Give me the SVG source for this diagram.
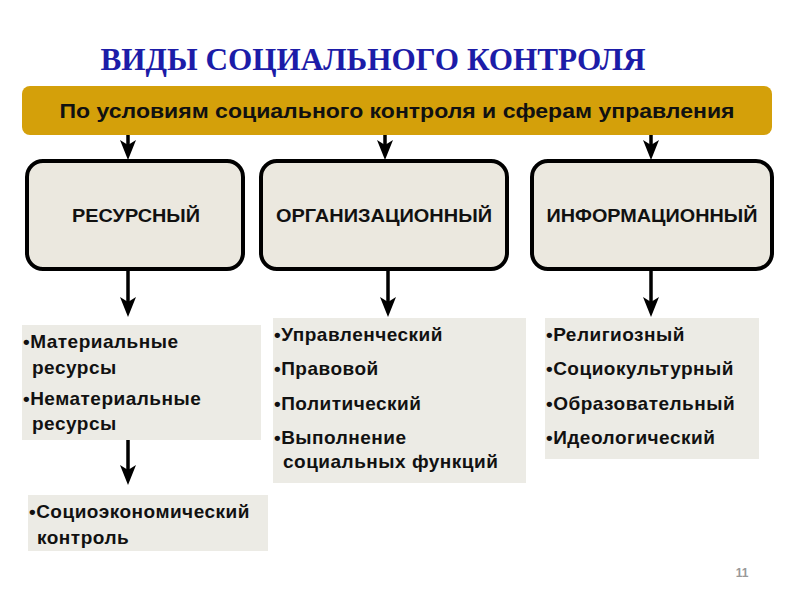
<svg xmlns="http://www.w3.org/2000/svg" width="800" height="600" viewBox="0 0 800 600">
<defs>
<marker id="ah" viewBox="0 0 20 16" refX="12" refY="8" markerWidth="20" markerHeight="16" markerUnits="userSpaceOnUse" orient="auto">
<path d="M0,0 L20,8 L0,16 L5,8 z" fill="#000"/>
</marker>
<style>
.conn{stroke:#000;stroke-width:3.5;fill:none;marker-end:url(#ah)}
.box{fill:#ebe8df;stroke:#000;stroke-width:4}
.lst{fill:#ecebe5}
.bt{font-family:"Liberation Sans",Arial,sans-serif;font-weight:bold;font-size:18px;fill:#111;text-anchor:middle}
.li{font-family:"Liberation Sans",Arial,sans-serif;font-weight:bold;font-size:19px;letter-spacing:0.5px;fill:#111}
</style>
</defs>
<rect width="800" height="600" fill="#fff"/>
<text x="373" y="70" text-anchor="middle" font-family="'Liberation Serif','Times New Roman',serif" font-weight="bold" font-size="31" fill="#1c1ca8" textLength="545" lengthAdjust="spacingAndGlyphs">ВИДЫ СОЦИАЛЬНОГО КОНТРОЛЯ</text>
<g id="header">
<rect x="22" y="86" width="750" height="49" rx="8" fill="#d4a00a"/>
<text x="397" y="118" text-anchor="middle" font-family="'Liberation Sans',Arial,sans-serif" font-weight="bold" font-size="21" fill="#111" textLength="675" lengthAdjust="spacingAndGlyphs">По условиям социального контроля и сферам управления</text>
</g>
<g id="connectors">
<line class="conn" x1="128" y1="135" x2="128" y2="152"/>
<line class="conn" x1="385" y1="135" x2="385" y2="152"/>
<line class="conn" x1="651" y1="135" x2="651" y2="152"/>
<line class="conn" x1="128" y1="269" x2="128" y2="309"/>
<line class="conn" x1="388" y1="269" x2="388" y2="309"/>
<line class="conn" x1="651" y1="269" x2="651" y2="309"/>
<line class="conn" x1="128" y1="440" x2="128" y2="477"/>
</g>
<g id="resource">
<rect class="box" x="27" y="161" width="216" height="108" rx="16"/>
<text class="bt" x="136" y="222" textLength="128" lengthAdjust="spacingAndGlyphs">РЕСУРСНЫЙ</text>
</g>
<g id="organizational">
<rect class="box" x="261" y="161" width="246" height="108" rx="16"/>
<text class="bt" x="384" y="222" textLength="216" lengthAdjust="spacingAndGlyphs">ОРГАНИЗАЦИОННЫЙ</text>
</g>
<g id="informational">
<rect class="box" x="532" y="161" width="240" height="108" rx="16"/>
<text class="bt" x="652" y="222" textLength="211" lengthAdjust="spacingAndGlyphs">ИНФОРМАЦИОННЫЙ</text>
</g>
<g id="list-resource">
<rect class="lst" x="22" y="325" width="239" height="115"/>
<text class="li" x="23" y="348">•Материальные</text>
<text class="li" x="32" y="374">ресурсы</text>
<text class="li" x="23" y="405">•Нематериальные</text>
<text class="li" x="32" y="430">ресурсы</text>
</g>
<g id="list-socioeconomic">
<rect class="lst" x="28" y="495" width="240" height="56"/>
<text class="li" x="29" y="518">•Социоэкономический</text>
<text class="li" x="37" y="544">контроль</text>
</g>
<g id="list-organizational">
<rect class="lst" x="273" y="318" width="253" height="165"/>
<text class="li" x="274" y="341">•Управленческий</text>
<text class="li" x="274" y="375">•Правовой</text>
<text class="li" x="274" y="410">•Политический</text>
<text class="li" x="274" y="444">•Выполнение</text>
<text class="li" x="283" y="468">социальных функций</text>
</g>
<g id="list-informational">
<rect class="lst" x="545" y="318" width="214" height="141"/>
<text class="li" x="546" y="341">•Религиозный</text>
<text class="li" x="546" y="375">•Социокультурный</text>
<text class="li" x="546" y="410">•Образовательный</text>
<text class="li" x="546" y="444">•Идеологический</text>
</g>
<text x="742" y="577" text-anchor="middle" font-family="'Liberation Sans',Arial,sans-serif" font-weight="bold" font-size="12" fill="#999">11</text>
</svg>
